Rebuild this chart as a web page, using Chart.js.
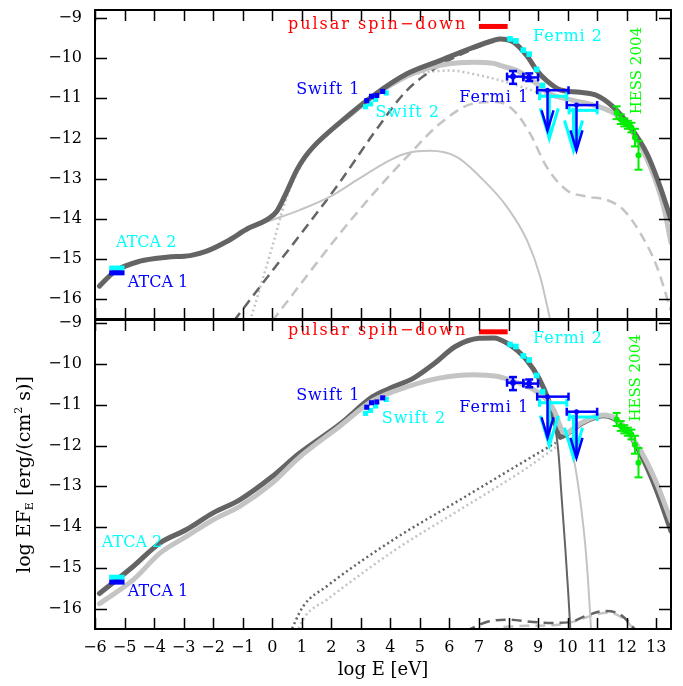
<!DOCTYPE html>
<html>
<head>
<meta charset="utf-8">
<script src="https://cdn.jsdelivr.net/npm/chart.js@4.4.1/dist/chart.umd.min.js"></script>
<style>
  body { margin: 0; background: #fff; }
  canvas { position: absolute; left: 0; top: 0; }
</style>
</head>
<body>
<canvas id="topChart" width="683" height="686"></canvas>
<canvas id="bottomChart" width="683" height="686"></canvas>
<script>
// tick values
const xTicks = [-6, -5, -4, -3, -2, -1, 0, 1, 2, 3, 4, 5, 6, 7, 8, 9, 10, 11, 12, 13];
const yTicks = [-16, -15, -14, -13, -12, -11, -10, -9];

// ---- top panel model curves ----
const topTotalX = [-5.85, -5.32, -4.48, -3.57, -2.78, -2.22, -1.54, -0.81, -0.19, 0.15, 0.49, 0.83, 1.11, 1.39, 2.3, 3.43, 4.56, 5.68, 6.81, 7.49, 7.71, 8.17, 8.62, 8.96, 9.29, 9.75, 10.42, 10.99, 11.55, 12.12, 12.68, 13.13, 13.5];
const topTotalY = [-15.68, -15.31, -15.06, -14.96, -14.92, -14.81, -14.57, -14.24, -14.03, -13.82, -13.33, -12.79, -12.46, -12.21, -11.6, -10.93, -10.39, -10.06, -9.73, -9.56, -9.52, -9.6, -9.94, -10.31, -10.56, -10.79, -10.85, -10.93, -11.22, -11.71, -12.37, -13.2, -14.03];
const topAltX = [2.5, 3.43, 4.56, 5.68, 6.81, 7.5, 7.71, 8.39, 8.96, 9.4, 10.19, 11.1, 11.66, 12.23, 12.8, 13.25, 13.5];
const topAltY = [-11.5, -10.95, -10.45, -10.18, -10.1, -10.13, -10.18, -10.35, -10.64, -10.89, -11.05, -11.22, -11.42, -11.88, -12.71, -13.7, -14.6];
const topSynX = [-0.8, -0.19, 0.94, 1.96, 2.86, 3.99, 4.56, 5.34, 6.24, 7.15, 7.94, 8.62, 9.07, 9.42];
const topSynY = [-14.25, -14.08, -13.78, -13.45, -13.04, -12.54, -12.37, -12.31, -12.46, -13.04, -13.7, -14.53, -15.44, -16.55];
const topDotX = [-0.75, -0.4, 0.0, 0.45, 1.0, 2.3, 3.43, 4.56, 5.23, 6.01, 7.03, 7.94, 8.62, 9.29, 10.19, 11.1, 11.66, 12.23, 12.8, 13.3, 13.5];
const topDotY = [-16.55, -15.7, -14.7, -13.55, -12.65, -11.6, -10.95, -10.45, -10.35, -10.31, -10.43, -10.6, -10.76, -10.92, -11.08, -11.25, -11.46, -11.93, -12.78, -13.9, -14.5];
const topDashDarkX = [-1.3, 0, 1.0, 2.3, 3.43, 4.56, 5.68, 6.81, 7.38, 7.6];
const topDashDarkY = [-16.55, -15.3, -14.35, -13.08, -11.88, -10.8, -10.18, -9.77, -9.6, -9.53];
const topDashLightX = [0.0, 2.3, 3.43, 4.56, 5.68, 6.81, 7.6, 8.17, 8.73, 9.29, 9.97, 10.65, 11.32, 11.89, 12.46, 13.02, 13.5];
const topDashLightY = [-16.55, -14.36, -13.37, -12.46, -11.63, -11.13, -11.09, -11.3, -11.88, -12.71, -13.29, -13.45, -13.53, -13.78, -14.36, -15.19, -16.3];

// ---- bottom panel model curves ----
const botTotalX = [-5.85, -4.7, -3.8, -2.9, -2.0, -1.1, 0, 0.9, 2.3, 3.4, 4.0, 4.8, 5.5, 6.2, 7.0, 7.5, 7.95, 8.6, 9.05, 9.35, 9.6, 9.75, 9.9, 10.2, 10.5, 11.2, 11.9, 12.45, 13.0, 13.5];
const botTotalY = [-15.63, -14.96, -14.39, -14.06, -13.65, -13.33, -12.76, -12.2, -11.47, -10.8, -10.59, -10.34, -9.98, -9.57, -9.37, -9.36, -9.49, -9.89, -10.38, -10.88, -11.5, -11.8, -11.75, -11.6, -11.45, -11.27, -11.53, -12.18, -13.08, -14.1];
const botAltX = [-5.85, -4.7, -3.8, -2.9, -2.0, -1.1, 0, 0.9, 2.3, 3.4, 4.6, 5.7, 6.8, 7.6, 8.2, 8.85, 9.3, 9.55, 9.8, 9.95, 10.2, 10.5, 11.2, 11.6, 12.45, 13.0, 13.5];
const botAltY = [-15.88, -15.29, -14.64, -14.23, -13.82, -13.49, -12.92, -12.3, -11.52, -10.9, -10.55, -10.34, -10.26, -10.3, -10.43, -10.63, -10.88, -11.15, -11.62, -11.7, -11.58, -11.43, -11.25, -11.33, -12.1, -12.9, -13.85];
const botSynDarkX = [9.35, 9.55, 9.68, 9.8, 9.92, 10.02, 10.1];
const botSynDarkY = [-10.9, -11.45, -12.1, -13.3, -14.5, -15.6, -16.6];
const botSynLightX = [9.6, 9.85, 10.05, 10.2, 10.4, 10.59, 10.7, 10.8];
const botSynLightY = [-11.2, -11.6, -11.95, -12.3, -13.2, -14.39, -15.4, -16.6];
const botDotDarkX = [0.6, 1.05, 1.85, 4.1, 6.36, 8.62, 9.6];
const botDotDarkY = [-16.6, -15.94, -15.45, -14.31, -13.33, -12.35, -11.93];
const botDotLightX = [0.82, 1.1, 1.85, 4.1, 6.36, 8.62, 9.6];
const botDotLightY = [-16.6, -16.2, -15.78, -14.59, -13.57, -12.55, -12.04];
const botDashDarkX = [6.55, 7.26, 7.94, 8.83, 9.5, 10.08, 10.65, 11.21, 11.77, 12.3];
const botDashDarkY = [-16.55, -16.33, -16.27, -16.33, -16.35, -16.33, -16.17, -16.06, -16.14, -16.52];
const botDashLightX = [7.3, 8.0, 8.8, 9.6, 10.3, 10.9, 11.4, 11.9, 12.3];
const botDashLightY = [-16.55, -16.44, -16.42, -16.4, -16.3, -16.15, -16.1, -16.25, -16.55];

// ---- observations ----
const atcaX = [-5.52, -5.0];
const atca1Y = -15.35;
const atca2Y = -15.23;
const spinX = [7.0, 7.97];
const spinY = -9.21;
const swift1X = [3.2, 3.36, 3.54, 3.74];
const swift1Y = [-11.06, -10.95, -10.93, -10.83];
const swift2X = [3.16, 3.33, 3.5, 3.86];
const swift2Y = [-11.21, -11.14, -11.03, -10.87];
const fermi2X = [8.05, 8.25, 8.5, 8.7, 8.95, 9.15];
const fermi2Y = [-9.52, -9.57, -9.8, -9.9, -10.28, -10.68];
const fermi1X = [8.15, 8.7];
const fermi1Y = [-10.46, -10.48];
const fermi1XLo = [7.95, 8.5];
const fermi1XHi = [8.5, 9.0];
const fermi1YLo = [-10.64, -10.57];
const fermi1YHi = [-10.32, -10.38];
const fermi1UlX = [9.32, 10.3];
const fermi1UlY = [-10.8, -11.17];
const fermi1UlXLo = [8.97, 9.97];
const fermi1UlXHi = [10.03, 11.0];
const fermi1UlTip = [-11.8, -12.3];
const fermi2UlX = [9.38, 10.2];
const fermi2UlY = [-10.95, -11.3];
const fermi2UlXLo = [9.05, 10.05];
const fermi2UlXHi = [9.97, 11.0];
const fermi2UlTip = [-12.0, -12.3];
const hessX = [11.66, 11.8, 11.92, 12.04, 12.16, 12.28, 12.4];
const hessY = [-11.36, -11.52, -11.6, -11.66, -11.73, -11.98, -12.42];
const hessErr = [0.16, 0.12, 0.1, 0.1, 0.12, 0.22, 0.36];

const DARK = '#646464';
const LIGHT = '#c4c4c4';
const FONT = '"DejaVu Serif", serif';

function pts(xs, ys) {
    return xs.map((x, i) => ({ x: x, y: Array.isArray(ys) ? ys[i] : ys }));
}

function curve(xs, ys, color, width, dash) {
    return {
        data: pts(xs, ys),
        showLine: true,
        borderColor: color,
        borderWidth: width,
        borderDash: dash || [],
        borderCapStyle: dash ? 'butt' : 'round',
        borderJoinStyle: 'round',
        cubicInterpolationMode: 'monotone',
        pointRadius: 0,
        fill: false
    };
}

function squares(xs, ys, color, r) {
    return {
        data: pts(xs, ys),
        showLine: false,
        pointStyle: 'rect',
        pointRadius: r,
        backgroundColor: color,
        borderWidth: 0
    };
}

function bar(xs, y, color, width) {
    return {
        data: pts(xs, y),
        showLine: true,
        borderColor: color,
        borderWidth: width,
        borderCapStyle: 'butt',
        pointRadius: 0
    };
}

// data sets shared by both panels, listed top-most first
function observations() {
    return [
        squares(fermi2X, fermi2Y, '#00ffff', 4),
        squares(swift1X, swift1Y, '#0000ff', 3.6),
        squares(swift2X, swift2Y, '#00ffff', 3.6),
        bar(atcaX, atca1Y, '#0000ff', 5),
        bar(atcaX, atca2Y, '#00ffff', 5),
        bar(spinX, spinY, '#ff0000', 5)
    ];
}

// draws error bars, upper limits and text
const overlay = {
    id: 'overlay',
    afterDatasetsDraw(chart, args, opts) {
        const ctx = chart.ctx;
        const x = chart.scales.x, y = chart.scales.y;
        const a = chart.chartArea;
        ctx.save();
        ctx.beginPath();
        ctx.rect(a.left, a.top, a.right - a.left, a.bottom - a.top);
        ctx.clip();

        function seg(x1, y1, x2, y2) {
            ctx.beginPath(); ctx.moveTo(x1, y1); ctx.lineTo(x2, y2); ctx.stroke();
        }
        function upperLimits(xs, ys, lo, hi, tip, color, lw, hw, hh) {
            ctx.strokeStyle = color;
            ctx.lineWidth = lw;
            ctx.lineCap = 'butt';
            xs.forEach((v, i) => {
                const px = x.getPixelForValue(v), py = y.getPixelForValue(ys[i]);
                const l = x.getPixelForValue(lo[i]), r = x.getPixelForValue(hi[i]);
                const t = y.getPixelForValue(tip[i]);
                seg(l, py, r, py);
                seg(l, py - 4, l, py + 4);
                seg(r, py - 4, r, py + 4);
                seg(px, py, px, t);
                ctx.beginPath();
                ctx.moveTo(px - hw, t - hh); ctx.lineTo(px, t); ctx.lineTo(px + hw, t - hh);
                ctx.stroke();
                ctx.fillStyle = color;
                ctx.beginPath(); ctx.arc(px, py, 2.5, 0, Math.PI * 2); ctx.fill();
            });
        }
        upperLimits(fermi2UlX, fermi2UlY, fermi2UlXLo, fermi2UlXHi, fermi2UlTip, '#00ffff', 3, 9, 30);
        upperLimits(fermi1UlX, fermi1UlY, fermi1UlXLo, fermi1UlXHi, fermi1UlTip, '#0000ff', 2.5, 6, 20);

        // Fermi 1 error bars
        ctx.strokeStyle = '#0000ff';
        ctx.fillStyle = '#0000ff';
        ctx.lineWidth = 2.5;
        fermi1X.forEach((v, i) => {
            const px = x.getPixelForValue(v), py = y.getPixelForValue(fermi1Y[i]);
            const l = x.getPixelForValue(fermi1XLo[i]), r = x.getPixelForValue(fermi1XHi[i]);
            const b = y.getPixelForValue(fermi1YLo[i]), t = y.getPixelForValue(fermi1YHi[i]);
            seg(l, py, r, py); seg(px, b, px, t);
            seg(l, py - 4, l, py + 4); seg(r, py - 4, r, py + 4);
            seg(px - 4, b, px + 4, b); seg(px - 4, t, px + 4, t);
            ctx.beginPath(); ctx.arc(px, py, 3, 0, Math.PI * 2); ctx.fill();
        });

        // HESS error bars
        ctx.strokeStyle = '#00ee00';
        ctx.fillStyle = '#00ee00';
        ctx.lineWidth = 2;
        hessX.forEach((v, i) => {
            const px = x.getPixelForValue(v);
            const py = y.getPixelForValue(hessY[i]);
            const b = y.getPixelForValue(hessY[i] - hessErr[i]), t = y.getPixelForValue(hessY[i] + hessErr[i]);
            seg(px, b, px, t);
            seg(px - 4, b, px + 4, b); seg(px - 4, t, px + 4, t);
            ctx.beginPath(); ctx.arc(px, py, 3, 0, Math.PI * 2); ctx.fill();
        });
        ctx.restore();

        // text labels
        ctx.save();
        ctx.textBaseline = 'middle';
        ctx.textAlign = 'left';
        opts.labels.forEach(lb => {
            const px = x.getPixelForValue(lb.x), py = y.getPixelForValue(lb.y);
            ctx.font = (lb.size || 16) + 'px ' + FONT;
            ctx.fillStyle = lb.color;
            ctx.letterSpacing = (lb.spacing || 0) + 'px';
            if (lb.rotate) {
                ctx.save();
                ctx.translate(px, py);
                ctx.rotate(-Math.PI / 2);
                ctx.textAlign = 'center';
                ctx.fillText(lb.text, 0, 0);
                ctx.restore();
            } else {
                ctx.fillText(lb.text, px, py);
            }
        });
        ctx.restore();
    },
    afterDraw(chart, args, opts) {
        const ctx = chart.ctx;
        const x = chart.scales.x, y = chart.scales.y;
        const a = chart.chartArea;
        ctx.save();
        ctx.strokeStyle = '#000';
        ctx.lineWidth = 1.5;
        xTicks.forEach(v => {
            const px = Math.round(x.getPixelForValue(v)) + 0.5;
            ctx.beginPath();
            ctx.moveTo(px, a.top); ctx.lineTo(px, a.top + 11);
            ctx.moveTo(px, a.bottom); ctx.lineTo(px, a.bottom - 11);
            ctx.stroke();
        });
        yTicks.forEach(v => {
            const py = Math.round(y.getPixelForValue(v)) + 0.5;
            ctx.beginPath();
            ctx.moveTo(a.left, py); ctx.lineTo(a.left + 12, py);
            ctx.moveTo(a.right, py); ctx.lineTo(a.right - 12, py);
            ctx.stroke();
        });
        ctx.lineWidth = 2;
        ctx.strokeRect(a.left, a.top, a.right - a.left, a.bottom - a.top);

        ctx.fillStyle = '#000';
        ctx.font = '16px ' + FONT;
        ctx.textBaseline = 'middle';
        ctx.textAlign = 'right';
        yTicks.forEach(v => {
            ctx.fillText('\u2212' + Math.abs(v), a.left - 13, y.getPixelForValue(v));
        });
        if (opts.xAxis) {
            ctx.textAlign = 'center';
            xTicks.forEach(v => {
                const s = v < 0 ? '\u2212' + Math.abs(v) : String(v);
                ctx.fillText(s, x.getPixelForValue(v), a.bottom + 19);
            });
            ctx.font = '18px ' + FONT;
            ctx.fillText('log E [eV]', (a.left + a.right) / 2, a.bottom + 41);

            // y title, reading bottom to top
            const parts = [
                ['log EF', 19, 0],
                ['E', 11, 5],
                [' [erg/(cm', 19, 0],
                ['2', 11, -6],
                [' s)]', 19, 0]
            ];
            let total = 0;
            parts.forEach(p => { ctx.font = p[1] + 'px ' + FONT; total += ctx.measureText(p[0]).width; });
            ctx.translate(25, (a.top + a.bottom) / 2);
            ctx.rotate(-Math.PI / 2);
            ctx.textAlign = 'left';
            let pos = -total / 2;
            parts.forEach(p => {
                ctx.font = p[1] + 'px ' + FONT;
                ctx.fillText(p[0], pos, p[2]);
                pos += ctx.measureText(p[0]).width;
            });
        }
        ctx.restore();
    }
};

function makeChart(id, datasets, yMax, pad, labels, xAxis) {
    datasets.forEach((d, i) => { d.order = i; });
    return new Chart(document.getElementById(id), {
        type: 'scatter',
        data: { datasets: datasets },
        options: {
            responsive: false,
            animation: false,
            devicePixelRatio: 1,
            layout: { padding: pad },
            plugins: {
                legend: { display: false },
                tooltip: { enabled: false },
                overlay: { labels: labels, xAxis: xAxis }
            },
            scales: {
                x: { type: 'linear', min: -6, max: 13.5, display: false },
                y: { type: 'linear', min: -16.5, max: yMax, display: false }
            }
        },
        plugins: [overlay]
    });
}

const topLabels = [
    { text: 'pulsar spin\u2212down', x: 0.53, y: -9.17, color: '#ff0000', spacing: 2 },
    { text: 'Fermi 2', x: 8.83, y: -9.48, color: '#00ffff', spacing: 1 },
    { text: 'Swift 1', x: 0.81, y: -10.78, color: '#0000ff', spacing: 1 },
    { text: 'Swift 2', x: 3.5, y: -11.37, color: '#00ffff', spacing: 1 },
    { text: 'Fermi 1', x: 6.33, y: -10.99, color: '#0000ff', spacing: 1 },
    { text: 'HESS 2004', x: 12.34, y: -10.31, color: '#00ff00', rotate: true, size: 15 },
    { text: 'ATCA 2', x: -5.29, y: -14.59, color: '#00ffff' },
    { text: 'ATCA 1', x: -4.89, y: -15.59, color: '#0000ff' }
];
const bottomLabels = [
    { text: 'pulsar spin\u2212down', x: 0.53, y: -9.18, color: '#ff0000', spacing: 2 },
    { text: 'Fermi 2', x: 8.83, y: -9.39, color: '#00ffff', spacing: 1 },
    { text: 'Swift 1', x: 0.81, y: -10.78, color: '#0000ff', spacing: 1 },
    { text: 'Swift 2', x: 3.71, y: -11.35, color: '#00ffff', spacing: 1 },
    { text: 'Fermi 1', x: 6.33, y: -11.07, color: '#0000ff', spacing: 1 },
    { text: 'HESS 2004', x: 12.32, y: -10.34, color: '#00ff00', rotate: true, size: 15 },
    { text: 'ATCA 2', x: -5.77, y: -14.39, color: '#00ffff' },
    { text: 'ATCA 1', x: -4.89, y: -15.6, color: '#0000ff' }
];

// top panel: first entry is drawn on top
makeChart('topChart', observations().concat([
    curve(topTotalX, topTotalY, DARK, 5),
    curve(topAltX, topAltY, LIGHT, 5),
    curve(topSynX, topSynY, LIGHT, 2),
    curve(topDashDarkX, topDashDarkY, DARK, 2.5, [10, 6]),
    curve(topDotX, topDotY, LIGHT, 2.5, [2, 3]),
    curve(topDashLightX, topDashLightY, LIGHT, 2.5, [10, 6])
]), -8.8, { left: 95, right: 12, top: 10, bottom: 367 }, topLabels, false);

makeChart('bottomChart', observations().concat([
    curve(botAltX, botAltY, LIGHT, 5),
    curve(botTotalX, botTotalY, DARK, 5),
    curve(botSynDarkX, botSynDarkY, DARK, 2),
    curve(botSynLightX, botSynLightY, LIGHT, 2),
    curve(botDotDarkX, botDotDarkY, DARK, 2.5, [2, 3]),
    curve(botDotLightX, botDotLightY, LIGHT, 2.5, [2, 3]),
    curve(botDashDarkX, botDashDarkY, DARK, 2.5, [10, 6]),
    curve(botDashLightX, botDashLightY, LIGHT, 2.5, [10, 6])
]), -8.92, { left: 95, right: 12, top: 320, bottom: 57 }, bottomLabels, true);
</script>
</body>
</html>
